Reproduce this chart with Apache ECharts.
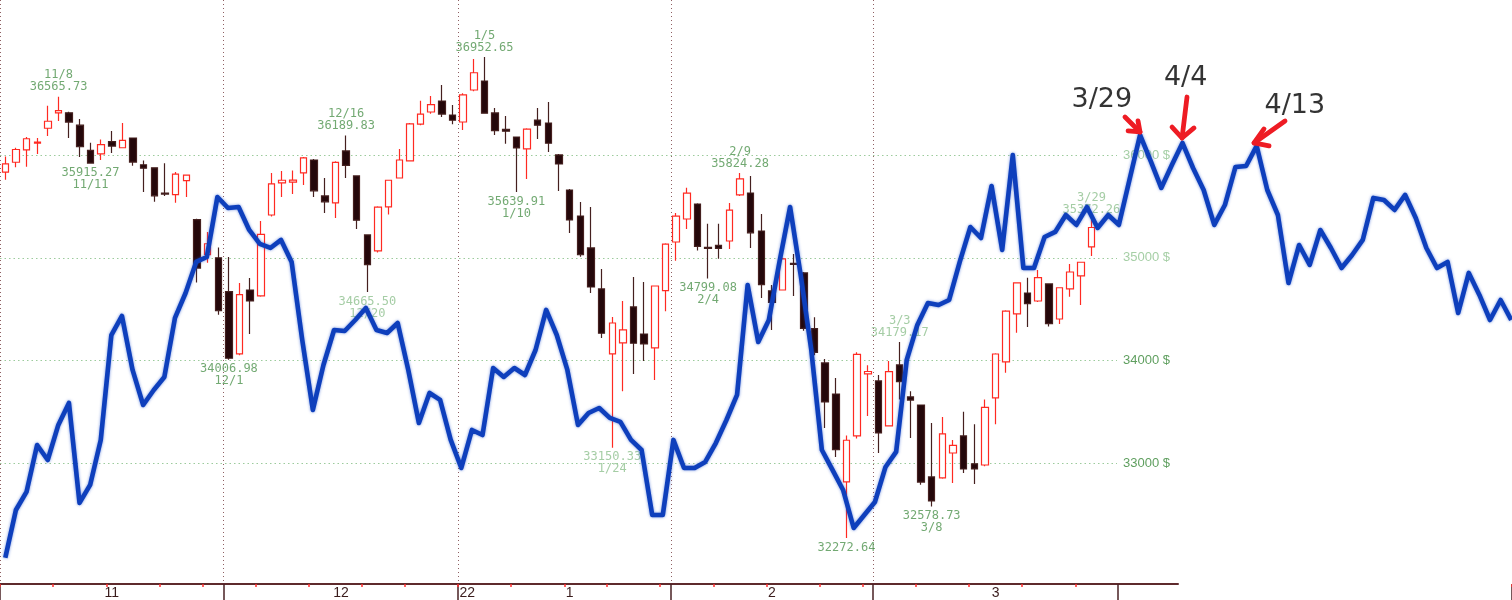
<!DOCTYPE html>
<html><head><meta charset="utf-8">
<script src="https://cdn.jsdelivr.net/npm/echarts@6/dist/echarts.min.js"></script>
<style>html,body{margin:0;padding:0;background:#fff}#c{width:1512px;height:600px}</style>
</head><body><div id="c"></div>
<script>
// trading days (categories)
const nov21 = [1,2,3,4,5,8,9,10,11,12,15,16,17,18,19,22,23,24,26,29,30];
const dec21 = [1,2,3,6,7,8,9,10,13,14,15,16,17,20,21,22,23,27,28,29,30,31];
const jan22 = [3,4,5,6,7,10,11,12,13,14,18,19,20,21,24,25,26,27,28,31];
const feb22 = [1,2,3,4,7,8,9,10,11,14,15,16,17,18,22,23,24,25,28];
const mar22 = [1,2,3,4,7,8,9,10,11,14,15,16,17,18,21,22,23,24,25,28,29,30,31];
const apr22 = [1,4,5,6,7,8,11,12,13,14,18,19,20,21,22,25,26,27,28,29];
const may22 = [2,3,4,5,6,9,10,11,12,13,16,17,18,19,20,23,24];

// candles (Nov 1 2021 .. Mar 29 2022)
const opens = [35833,35929,36050,36115,36260,36410,36410,36290,36045,36010,36130,36070,36165,35905,35875,35630,35615,35750,35370,35030,35000,
34670,34064,34686,34628,35416,35728,35735,35825,35951,35601,35533,36039,35796,35222,35066,35494,35776,35942,36300,36418,36525,36389,
36321,36632,36720,36409,36250,36175,36060,36340,36311,36000,35659,35406,35095,34696,34064,34171,34521,34258,34122,34680,
35153,35377,35523,35100,35120,35163,35611,35630,35260,34677,34686,34945,34852,34310,33976,33674,32818,33266,33869,
33801,33363,33957,33645,33567,32867,32857,33100,33266,32994,32983,33636,33986,34453,34657,34579,34745,34404,34696,34823,35105];
const highs = [35984,36070,36175,36165,36478,36565.73,36420,36350,36120,36150,36233,36311,36170,35945,35880,35920,35835,35810,35380,35250,35100,
35007,34755,34803,35358,35825,35845,35850,35981,35960,35776,35940,36189.83,35800,35225,35500,35760,36058,36310,36527,36574,36681,36487,
36600,36935,36952.65,36457,36380,36180,36260,36457,36516,36010,35670,35543,35494,34891,34423,34579,34813,34764,34725,35140,
35436,35680,35530,35330,35330,35533,35824.28,35796,35426,34735,35000,35036,34860,34420,34015,33830,33270,34080,33954,
33860,33996,34179.17,33700,33570,33392,33450,33227,33500,33380,33620,34070,34490,34760,34805,34880,34750,34710,34940,34960,35372.26];
const lows = [35760,35880,35885,36010,36185,36330,36165,35980,35915.27,35950,36020,36065,35895,35640,35545,35600,35535,35590,34760,34950,34445,
34006.98,34050,34258,34620,35400,35590,35620,35708,35590,35436,35387,35776,35280,34665.50,35050,35420,35770,35940,36290,36400,36370,36300,
36243,36620,36400,36195,36110,35639.91,35766,36156,36030,35650,35240,35010,34657,34220,33150.33,33700,33869,33995,33810,34480,
34970,35280,35070,34799.08,34990,35085,35600,35095,34608,34297,34680,34628,34290,34050,33343,33060,32272.64,33240,33460,
33100,33360,33620,33246,32790,32578.73,32850,32808,32905,32798,32970,33380,33880,34270,34327,34570,34330,34355,34620,34540,35017];
const closes = [35914,36053,36158,36124,36328,36432,36320,36080,35921,36100,36087,36142,35931,35871,35602,35619,35814,35804,34899,35136,34484,
34022,34640,34580,35227,35719,35754,35755,35971,35651,35544,35927,35898,35365,34932,35493,35754,35951,36302,36398,36489,36398,36338,
36585,36800,36407,36236,36232,36069,36252,36290,36114,35912,35368,35029,34715,34265,34365,34298,34168,34161,34725,35132,
35405,35629,35111,35090,35091,35463,35768,35242,34738,34566,34989,34934,34312,34079,33597,33132,33224,34059,33893,
33295,33891,33795,33615,32817,32633,33286,33174,32944,32945,33544,34063,34481,34755,34553,34807,34359,34708,34861,34956,35294];

// blue overlay line (one value per day)
const blueValues = [32080,32545,32721,33178,33032,33373,33587,32614,32789,33227,34248,34433,33908,33567,33713,33840,34414,34657,34959,35007,
35591,35484,35494,35270,35134,35095,35173,34959,34200,33519,33956,34297,34287,34394,34511,34297,34268,34365,33908,33392,
33684,33616,33227,32954,33324,33275,33927,33840,33927,33859,34102,34492,34248,33908,33373,33489,33538,33441,33402,33227,
33129,32497,32497,33227,32954,32954,33013,33197,33421,33665,34735,34180,34394,34959,35494,34832,34102,33129,32935,32740,
32370,32497,32623,32964,33110,34005,34346,34560,34540,34589,34959,35299,35192,35698,35076,36000,34900,34900,35202,35251,
35416,35319,35494,35290,35416,35319,35757,36195,35942,35679,35903,36117,35873,35659,35319,35513,35883,35893,36088,35659,
35416,34754,35124,34930,35270,35095,34900,35027,35173,35582,35562,35465,35611,35387,35095,34900,34959,34462,34852,34638,
34394,34589,34394];

// high / low annotations
const markDates  = ['11/8','11/11','12/1','12/16','12/20','1/5','1/10','1/24','2/4','2/9','2/24','3/3','3/8','3/29'];
const markPrices = [36565.73,35915.27,34006.98,36189.83,34665.50,36952.65,35639.91,33150.33,34799.08,35824.28,32272.64,34179.17,32578.73,35372.26];
const markKinds  = ['high','low','low','high','low','high','low','low','low','high','low','high','low','high'];
const markLight  = [0,0,0,0,1,0,0,1,0,0,0,1,0,1];
const markShowDate = [1,1,1,1,1,1,1,1,1,1,0,1,1,1];

// x-axis labels
const axisLabelDates = ['11/15','12/16','1/3','1/18','2/14','3/16'];
const axisLabelTexts = ['11','12','22','1','2','3'];

// y ticks
const yTickMin = 33000, yTickMax = 36000, yTickStep = 1000;

// callouts on the blue line
const calloutTexts = ['3/29','4/4','4/13'];
const calloutTextPos = [[103.4,36535],[111.3,36749],[121.6,36477]];
const calloutArrows = [
  {tail:[105.58,36370], tip:[107.0,36224], h1:[105.87,36234], h2:[106.81,36331]},
  {tail:[111.43,36564], tip:[110.96,36165], h1:[110.02,36272], h2:[112.09,36263]},
  {tail:[120.67,36331], tip:[117.75,36117], h1:[118.69,36253], h2:[119.16,36088]}
];

// ---- build ----
const monthList = [[2021,11,nov21],[2021,12,dec21],[2022,1,jan22],[2022,2,feb22],[2022,3,mar22],[2022,4,apr22],[2022,5,may22]];
const categories = [], dates = [], monthStart = [];
monthList.forEach(([y,m,days]) => days.forEach((d,k) => {
  if (k === 0) monthStart.push(categories.length);
  categories.push(m + '/' + d); dates.push(new Date(y, m-1, d));
}));
const weekStart = [];
dates.forEach((dt,i) => { if (i === 0 || dt.getDay() <= dates[i-1].getDay()) weekStart.push(i); });
const lastCandle = opens.length - 1;
const monthGrid = monthStart.filter(i => i <= lastCandle);
const monthTicks = monthStart.filter(i => i <= lastCandle + 3);
const labelIdx = axisLabelDates.map(d => categories.indexOf(d));

const yMin = 31825, yMax = 37508;
const W = 1512, axisY = 584;
const blueStep = 10.605;

const candleData = opens.map((o,i) => [o, closes[i], lows[i], highs[i]]);
const greenDark = '#4f934f', greenLight = '#8fc08f';
const markData = markDates.map((d,i) => {
  const p = markPrices[i].toFixed(2);
  const txt = markKinds[i] === 'high' ? (d + '\n' + p) : (markShowDate[i] ? (p + '\n' + d) : p);
  return { value: [d, markPrices[i]], label: { show: true, position: markKinds[i] === 'high' ? 'top' : 'bottom',
    distance: 3, formatter: txt, color: markLight[i] ? greenLight : greenDark } };
});
const arrowLines = [];
calloutArrows.forEach(a => { arrowLines.push({coords:[a.tail, a.tip]}); arrowLines.push({coords:[a.h1, a.tip, a.h2]}); });

const plotH = axisY;
const gridBase = { containLabel: false, outerBoundsMode: 'none' };
const blueW = blueValues.length * blueStep;
const option = {
  animation: false,
  backgroundColor: '#ffffff',
  grid: [
    Object.assign({ left: 0, top: 0, width: W, height: plotH }, gridBase),          // 0 candles
    Object.assign({ left: 0, top: 155, width: 1117, height: 308.25 }, gridBase),    // 1 y grid lines + labels
    Object.assign({ left: 0, top: 0, width: 1178, height: plotH }, gridBase),       // 2 axis line
    Object.assign({ left: 0, top: 0, width: W, height: plotH }, gridBase),          // 3 weekly ticks
    Object.assign({ left: 0, top: 0, width: blueW, height: plotH }, gridBase),      // 4 blue line
    Object.assign({ left: 0, top: 0, width: blueW, height: plotH }, gridBase)       // 5 callouts
  ],
  xAxis: [
    { gridIndex: 0, type: 'category', data: categories, boundaryGap: true,
      axisLine: { show: false, onZero: false },
      axisTick: { show: true, interval: (i) => monthTicks.indexOf(i) >= 0, length: 16, lineStyle: { color: '#4a2224', width: 1.5 } },
      axisLabel: { show: true, interval: (i) => labelIdx.indexOf(i) >= 0, margin: 2, color: '#3a1c1c',
        fontFamily: 'Liberation Sans', fontSize: 14,
        formatter: (v, i) => { const k = labelIdx.indexOf(i); if (k < 0) return '';
          const t = axisLabelTexts[k]; if (t === '12') return '{l|' + t + '}'; if (t === '22') return '{r|' + t + '}'; return t; },
        rich: { l: { padding: [0, 10, 0, 0], color: '#3a1c1c', fontSize: 14, fontFamily: 'Liberation Sans' },
                r: { padding: [0, 0, 0, 8], color: '#3a1c1c', fontSize: 14, fontFamily: 'Liberation Sans' } } },
      splitLine: { show: true, interval: (i) => monthGrid.indexOf(i) >= 0, lineStyle: { color: '#8e5f62', type: [1, 3], width: 1 } } },
    { gridIndex: 1, type: 'value', show: false, min: 0, max: 1 },
    { gridIndex: 2, type: 'value', min: 0, max: 1, axisLine: { show: true, onZero: false, lineStyle: { color: '#5e2a2c', width: 2 } },
      axisTick: { show: false }, axisLabel: { show: false }, splitLine: { show: false } },
    { gridIndex: 3, type: 'category', data: categories, boundaryGap: true, axisLine: { show: false, onZero: false },
      axisTick: { show: true, interval: (i) => weekStart.indexOf(i) >= 0 && i <= lastCandle + 2, length: 3, lineStyle: { color: '#ff3030', width: 1.5 } },
      axisLabel: { show: false }, splitLine: { show: false } },
    { gridIndex: 4, type: 'category', data: blueValues.map((v, i) => i), boundaryGap: true, show: false },
    { gridIndex: 5, type: 'value', min: -0.5, max: blueValues.length - 0.5, show: false }
  ],
  yAxis: [
    { gridIndex: 0, type: 'value', min: yMin, max: yMax, show: false },
    { gridIndex: 1, type: 'value', position: 'right', min: yTickMin, max: yTickMax, interval: yTickStep,
      axisLine: { show: false }, axisTick: { show: false },
      splitLine: { show: true, lineStyle: { color: '#9ccb9c', type: [1.5, 3], width: 1 } },
      axisLabel: { margin: 6, fontFamily: 'Liberation Sans', fontSize: 13,
        formatter: (v) => (v >= 35000 ? '{lt|' : '{dk|') + v + ' $}',
        rich: { lt: { color: '#a6cfa6', fontFamily: 'Liberation Sans', fontSize: 13 },
                dk: { color: '#5f9f5f', fontFamily: 'Liberation Sans', fontSize: 13 } } } },
    { gridIndex: 2, type: 'value', show: false, min: 0, max: 1 },
    { gridIndex: 3, type: 'value', show: false, min: 0, max: 1 },
    { gridIndex: 4, type: 'value', min: yMin, max: yMax, show: false },
    { gridIndex: 5, type: 'value', min: yMin, max: yMax, show: false }
  ],
  series: [
    { type: 'candlestick', xAxisIndex: 0, yAxisIndex: 0, data: candleData, barWidth: 7, z: 3,
      itemStyle: { color: '#ffffff', color0: '#24070a', borderColor: '#ff2a22', borderColor0: '#45201f', borderWidth: 1.2 } },
    { type: 'scatter', xAxisIndex: 0, yAxisIndex: 0, data: markData, symbolSize: 1, z: 4,
      itemStyle: { color: 'rgba(0,0,0,0)' },
      label: { fontFamily: 'DejaVu Sans Mono', fontSize: 12, lineHeight: 12, align: 'center' } },
    { type: 'line', xAxisIndex: 4, yAxisIndex: 4, data: blueValues, symbol: 'none', z: 6,
      lineStyle: { color: '#0e3fbc', width: 4.6, shadowBlur: 3, shadowColor: 'rgba(20,70,200,0.6)', join: 'round' } },
    { type: 'lines', coordinateSystem: 'cartesian2d', xAxisIndex: 5, yAxisIndex: 5, polyline: true, data: arrowLines, z: 8,
      lineStyle: { color: '#ee1c24', width: 4.8, cap: 'round', join: 'round', opacity: 1 } },
    { type: 'scatter', xAxisIndex: 5, yAxisIndex: 5, symbolSize: 1, z: 8, itemStyle: { color: 'rgba(0,0,0,0)' },
      data: calloutTextPos.map((p, i) => ({ value: p, label: { show: true, position: 'inside', formatter: calloutTexts[i] } })),
      label: { color: '#000000', fontFamily: 'DejaVu Sans', fontSize: 27 } }
  ]
};
const chart = echarts.init(document.getElementById('c'));
chart.setOption(option);
</script>
</body></html>
